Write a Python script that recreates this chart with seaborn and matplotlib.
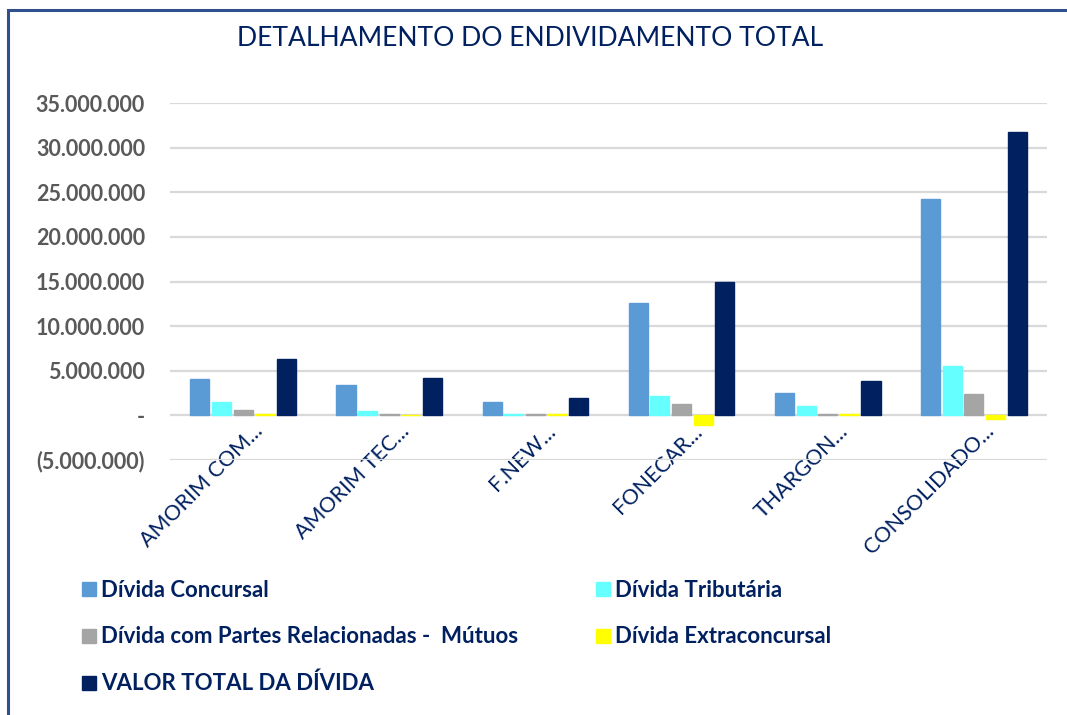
import numpy as np
import pandas as pd
import matplotlib
matplotlib.use('Agg')
import matplotlib.pyplot as plt
import matplotlib.transforms as mtransforms
from matplotlib.patches import Rectangle
from matplotlib.ticker import FuncFormatter, MultipleLocator
import seaborn as sns

# categorias (empresas) e séries
empresas = ['AMORIM COM...', 'AMORIM TEC...', 'F.NEW...', 'FONECAR...', 'THARGON...', 'CONSOLIDADO...']
series = ['Dívida Concursal', 'Dívida Tributária',
          'Dívida com Partes Relacionadas -  Mútuos', 'Dívida Extraconcursal',
          'VALOR TOTAL DA DÍVIDA']

concursal = [4_100_000, 3_400_000, 1_450_000, 12_550_000, 2_500_000, 24_200_000]
tributaria = [1_450_000, 450_000, 200_000, 2_200_000, 1_000_000, 5_550_000]
partes = [560_000, 100_000, 100_000, 1_300_000, 100_000, 2_350_000]
extraconcursal = [100_000, 50_000, 100_000, -1_100_000, 200_000, -380_000]
total = [6_300_000, 4_150_000, 2_000_000, 15_000_000, 3_900_000, 31_800_000]

cores = ['#5B9BD5', '#66FFFF', '#A5A5A5', '#FFFF00', '#002060']
navy = '#002060'

# monta dataframe longo
valores = [concursal, tributaria, partes, extraconcursal, total]
df = pd.DataFrame({
    'empresa': np.tile(empresas, len(series)),
    'tipo': np.repeat(series, len(empresas)),
    'valor': np.concatenate(valores),
})

sns.set_style('white')
plt.rcParams['font.family'] = ['Lato', 'DejaVu Sans']

fig = plt.figure(figsize=(10.67, 7.15), dpi=100)
ax = fig.add_axes([170 / 1067, 1 - 460 / 715, (1047 - 170) / 1067, (460 - 103) / 715])

sns.barplot(data=df, x='empresa', y='valor', hue='tipo', order=empresas,
            hue_order=series, palette=cores, width=0.74, gap=0.12,
            errorbar=None, ax=ax, saturation=1, legend=True)

# contorno fino para que as barras muito pequenas continuem visíveis
for p in ax.patches:
    p.set_edgecolor(p.get_facecolor())
    p.set_linewidth(1.0)

ax.set_ylim(-5_000_000, 35_000_000)
ax.set_xlim(-0.5, len(empresas) - 0.5)
ax.yaxis.set_major_locator(MultipleLocator(5_000_000))


def fmt(v, pos):
    if abs(v) < 1:
        return '-'
    s = f'{abs(v):,.0f}'.replace(',', '.')
    return f'({s})' if v < 0 else s


ax.yaxis.set_major_formatter(FuncFormatter(fmt))
ax.grid(axis='y', color='#D9D9D9', linewidth=1.6)
ax.set_axisbelow(True)
for s in ax.spines.values():
    s.set_visible(False)
ax.tick_params(axis='both', length=0)
ax.tick_params(axis='y', pad=18)
ax.set_xlabel('')
ax.set_ylabel('')

for lab in ax.get_yticklabels():
    lab.set_fontsize(15.5)
    lab.set_fontweight('bold')
    lab.set_color('#595959')

offset = mtransforms.ScaledTranslation(10 / 100, 44 / 100, fig.dpi_scale_trans)
for lab in ax.get_xticklabels():
    lab.set_rotation(45)
    lab.set_ha('right')
    lab.set_va('top')
    lab.set_rotation_mode('anchor')
    lab.set_fontsize(15.5)
    lab.set_color(navy)
    lab.set_transform(lab.get_transform() + offset)

# legenda em duas colunas, ordem por linha
handles, labels = ax.get_legend_handles_labels()
ax.get_legend().remove()
ordem = [0, 2, 4, 1, 3]
leg = fig.legend([handles[i] for i in ordem], [labels[i] for i in ordem],
                 ncol=2, loc='upper left', bbox_to_anchor=(73 / 1067, 1 - 571 / 715),
                 frameon=False, prop={'size': 16, 'weight': 'bold'},
                 handlelength=0.63, handleheight=0.58, handletextpad=0.25,
                 columnspacing=3.47, labelspacing=1.15, borderaxespad=0)
for t in leg.get_texts():
    t.set_color(navy)

fig.text(530 / 1067, 1 - 39 / 715, 'DETALHAMENTO DO ENDIVIDAMENTO TOTAL',
         ha='center', va='center', fontsize=19.1, color=navy)

# moldura do gráfico
fig.patches.append(Rectangle((8 / 1067, -0.1), 1.2, 1.1 - 10 / 715,
                             transform=fig.transFigure, fill=False,
                             edgecolor='#2F4F8F', linewidth=2.2))

fig.savefig('out.png', dpi=100)
